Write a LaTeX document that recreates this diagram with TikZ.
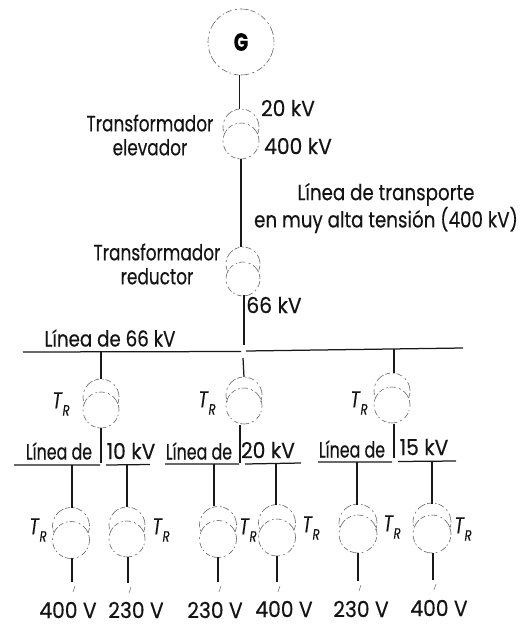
\documentclass[tikz,border=0pt]{standalone}
\usepackage{fontspec}
\setmainfont[FakeStretch=0.77,FakeBold=0.35]{Poppins}
\newfontfamily\numf[FakeStretch=0.92,FakeBold=0.35]{Poppins}
\newfontfamily\linf[FakeStretch=0.72,FakeBold=0.35]{Poppins}
\newfontfamily\widef[FakeStretch=0.83,FakeBold=0.35]{Poppins}
\newcommand{\xfmr}[5]{%
  % name, x, y of upper centre, radius, distance
  \node[xfnode,minimum size=#4*2pt] (#1u) at (#2,#3) {};
  \node[xfnode,minimum size=#4*2pt] (#1l) at (#2,#3+#5) {};
  \draw[xfline] (#1l.center) ++(0:#4pt) arc[start angle=0,end angle=360,radius=#4pt];
  \draw[xfline] (#1u.center) ++(-22:#4pt) arc[start angle=-22,end angle=202,radius=#4pt];
}
\newcommand{\TR}{\textit{T}\raisebox{-0.32em}{\fontsize{15}{15}\selectfont\textit{R}}}
\tikzset{
  x=1pt,y=-1pt,
  xfnode/.style={circle,inner sep=0pt,outer sep=0pt},
  xfline/.style={draw=black!60,line width=0.6pt,dash pattern=on 5pt off 2pt on 9pt off 3pt on 2pt off 3.5pt on 6pt off 2pt on 1.5pt off 3pt},
  wire/.style={line width=1.25pt,black!90},
  busbar/.style={line width=1.25pt,black!90},
  lab/.style={inner sep=0pt,font=\fontsize{22}{24}\selectfont,text=black!92,align=center},
  numlab/.style={lab,font=\fontsize{22}{24}\selectfont\numf},
  linlab/.style={lab,font=\fontsize{22}{24}\selectfont\linf},
  widelab/.style={lab,font=\fontsize{22}{24}\selectfont\widef},
  tr/.style={inner sep=0pt,font=\fontsize{23}{23}\selectfont,text=black!92},
}
\begin{document}
\begin{tikzpicture}
\useasboundingbox (0,0) rectangle (522,625);
% generator
\node[circle,inner sep=0pt,minimum size=66pt,xfline,text=black,font=\fontsize{25}{25}\selectfont\bfseries] (g) at (241,42) {G};
% main transformers
\xfmr{ta}{241}{127}{18}{14}
\xfmr{tb}{243}{264}{17}{15}
\draw[wire] ([xshift=-1.5pt]g.south) -- ([xshift=-1.5pt]tau.north);
\draw[wire] (tal.south) -- ([xshift=-2pt]tbu.north);
% buses
\coordinate (b1w) at (23,352); \coordinate (b1e) at (463,348);
\coordinate (b1a) at (241,351.5); \coordinate (b1b) at (246,351);
\draw[busbar] (b1w) -- (b1a) (b1b) -- (b1e);
\coordinate (b2w) at (14,465); \coordinate (b2a) at (100,465); \coordinate (b2b) at (106,465); \coordinate (b2e) at (150,464.5);
\draw[busbar] (b2w) -- (b2a) (b2b) -- (b2e);
\coordinate (b3w) at (165,464); \coordinate (b3a) at (239,464); \coordinate (b3b) at (245,464); \coordinate (b3e) at (301,463);
\draw[busbar] (b3w) -- (b3a) (b3b) -- (b3e);
\coordinate (b4w) at (318,462); \coordinate (b4a) at (392,462); \coordinate (b4b) at (398,461.5); \coordinate (b4e) at (456,461);
\draw[busbar] (b4w) -- (b4a) (b4b) -- (b4e);
% step-down transformers
\xfmr{tc}{101}{397}{18}{13}
\xfmr{td}{244}{395}{18}{11}
\xfmr{te}{392}{391}{18}{14}
\coordinate (w66a) at (244,295); \coordinate (w66b) at (244,345); \coordinate (w66c) at (243,358);
\draw[wire] (w66a) -- (w66b);
\draw[wire] (w66c) -- (tdu.north);
\coordinate (c1) at (101,352); \coordinate (c2) at (101,463);
\draw[wire] (c1) -- (tcu.north);
\draw[wire] (tcl.south) -- (c2);
\coordinate (d1) at (240,425); \coordinate (d2) at (240,463);
\draw[wire] (d1) -- (d2);
\coordinate (e1) at (394,349); \coordinate (e2) at (394,373); \coordinate (e3) at (394,424); \coordinate (e4) at (394,458);
\draw[wire] (e1) -- (e2);
\draw[wire] (e3) -- (e4);
% distribution transformers
\xfmr{fa}{71}{526}{18.5}{14}
\xfmr{fb}{127}{525}{18}{14}
\xfmr{fc}{218}{525}{18.5}{14}
\xfmr{fd}{277}{523}{18.5}{14.5}
\xfmr{fe}{358}{523}{19}{11}
\xfmr{ff}{432}{522}{19}{12}
\foreach \xa/\ya/\yb in {72/465/508,127/465/507,214/464/506,276/463/505,357/462/505,432/461/504}{
  \draw[wire] (\xa,\ya) -- (\xa,\yb);
}
\foreach \xb/\ya/\yb in {72/558/582,128/557/583,218/557/582,277/556/582,358/553/581,433/553/580}{
  \draw[wire] (\xb,\ya) -- (\xb,\yb);
  \draw[black!55,line width=0.6pt] (\xb+3,\yb+4) -- (\xb+1,\yb+10);
}
% labels
\node[numlab] (l20) at (288,108) {20 kV};
\node[numlab] (l400) at (298,146) {400 kV};
\node[lab] (lel) at (150,135) {Transformador\\elevador};
\node[lab] (lre) at (157,264) {Transformador\\reductor};
\node[widelab] (lin) at (386,208) {Línea de transporte\\en muy alta tensión (400 kV)};
\node[numlab] (l66) at (274,305) {66 kV};
\node[widelab] (lb1) at (110,338) {Línea de 66 kV};
\node[linlab] (l2a) at (59,451) {Línea de};
\node[numlab] (l2b) at (131,451) {10 kV};
\node[linlab] (l3a) at (199,451) {Línea de};
\node[numlab] (l3b) at (268,450) {20 kV};
\node[linlab] (l4a) at (352,449) {Línea de};
\node[numlab] (l4b) at (424,447) {15 kV};
\foreach \i/\tx/\ty in {1/61/404,2/207/403,3/359/403,4/38/530,5/161/530,6/248/530,7/311/528,8/392/527,9/463/529}{
  \node[tr] (tr\i) at (\tx,\ty) {\TR};
}
\foreach \i/\tx/\ty/\tv in {1/68/610/400 V,2/136/610/230 V,3/215/610/230 V,4/284/609/400 V,5/361/609/230 V,6/439/608/400 V}{
  \node[numlab] (v\i) at (\tx,\ty) {\tv};
}
\end{tikzpicture}
\end{document}
